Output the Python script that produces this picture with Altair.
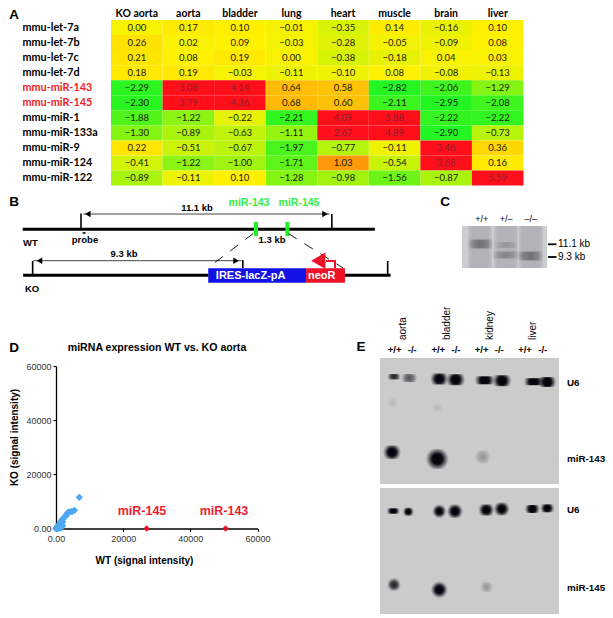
import altair as alt
import pandas as pd

# ---------- Panel A ----------
tissues = ["KO aorta", "aorta", "bladder", "lung", "heart", "muscle", "brain", "liver"]
mirnas = ["mmu-let-7a", "mmu-let-7b", "mmu-let-7c", "mmu-let-7d", "mmu-miR-143", "mmu-miR-145",
          "mmu-miR-1", "mmu-miR-133a", "mmu-miR-9", "mmu-miR-124", "mmu-miR-122"]
heat = [
    [0.00, 0.17, 0.10, -0.01, -0.35, 0.14, -0.16, 0.10],
    [0.26, 0.02, 0.09, -0.03, -0.28, -0.05, -0.09, 0.08],
    [0.21, 0.08, 0.19, 0.00, -0.38, -0.18, 0.04, 0.03],
    [0.18, 0.19, -0.03, -0.11, -0.10, 0.08, -0.08, -0.13],
    [-2.29, 3.08, 4.14, 0.64, 0.58, -2.82, -2.06, -1.29],
    [-2.30, 3.79, 4.36, 0.68, 0.60, -2.11, -2.95, -2.08],
    [-1.88, -1.22, -0.22, -2.21, 4.09, 5.88, -2.22, -2.22],
    [-1.30, -0.89, -0.63, -1.11, 2.67, 4.89, -2.90, -0.73],
    [0.22, -0.51, -0.67, -1.97, -0.77, -0.11, 3.46, 0.36],
    [-0.41, -1.22, -1.00, -1.71, 1.03, -0.54, 3.68, 0.16],
    [-0.89, -0.11, 0.10, -1.28, -0.98, -1.56, -0.87, 5.59],
]
# ---------- Panel D ----------
wt_blue = [6940, 5500, 4800, 4200, 3700, 3300, 3000, 2900, 2100, 1800, 2000, 1500, 1200, 1700, 900,
           600, 1300, 400, 200, 100, 800, 1500, 1900, 0, 300, 600, 1000]
ko_blue = [11500, 6700, 6300, 6200, 6000, 5500, 4900, 4500, 3700, 3200, 2500, 2600, 2000, 1500, 1400,
           1000, 800, 500, 300, 100, 300, 200, 900, 0, 0, 100, 200]
wt_red = [27000, 50500]
ko_red = [0, 0]

# ---------- Panel E: lanes (gel units), widths, heights and signal class ----------
g1_x = [14, 29.3, 59.3, 75.7, 104.7, 122, 153.7, 167.3, 12, 57.3, 102.7, 12.7, 57.3]
g1_y = [18.7, 20, 21, 21.7, 22.3, 22.7, 23.7, 24, 94.3, 101, 98.7, 44.7, 49.7]
g1_w = [13.5, 16, 18, 19, 20, 19, 20, 18, 18, 23, 16, 11, 11]
g1_h = [5.4, 8, 11, 11, 8, 11, 7, 10, 13.5, 20, 13, 11, 7]
g1_c = ["dark", "mid", "black", "black", "black", "black", "black", "black", "black", "black", "faint", "trace", "trace"]

g2_x = [13.3, 28.3, 59.3, 75, 106.3, 121.7, 152.3, 167.3, 14, 59.3, 106.7]
g2_y = [23, 23.7, 23.3, 23.3, 22, 21, 21, 20.3, 96.7, 101.7, 99]
g2_w = [13, 11, 14, 16, 16, 16, 15, 14, 14, 17, 13]
g2_h = [5.4, 8, 13.5, 13.5, 11, 12.6, 8, 8, 12.6, 17, 10]
g2_c = ["black", "black", "black", "black", "black", "black", "black", "black", "dark", "black", "faint"]

c_x = [18.5, 44, 44, 68]
c_y = [18, 19, 29, 30]
c_w = [26, 24, 28, 27]
c_h = [9, 6, 7, 9]
c_c = ["gel_dark", "gel_faint", "gel_mid", "gel_dark"]
c_lanes = [(6, 30), (32, 56), (57, 81)]

W, H = 597, 606


def S(lo, hi, a, b):
    """Linear scale: domain lo..hi onto figure pixels a..b."""
    return alt.Scale(domain=[lo, hi], range=[a - 8, b - 8], nice=False, zero=False)


FX = S(0, 613, 0, 613)
FY = S(0, 618, 0, 618)
KB = S(-3, 14, 13.2, 397.4)   # map positions of panel B in kb


def lines(rows, width, color, xscale=FX, yscale=FY, dash=None, cap="butt"):
    df = pd.DataFrame(rows, columns=["x", "y", "x2", "y2"])
    kw = dict(strokeWidth=width, color=color, strokeCap=cap)
    if dash:
        kw["strokeDash"] = dash
    return alt.Chart(df).mark_rule(**kw).encode(
        x=alt.X("x:Q", scale=xscale, axis=None), x2="x2:Q",
        y=alt.Y("y:Q", scale=yscale, axis=None), y2="y2:Q")


def boxes(rows, fill, xscale=FX, yscale=FY):
    df = pd.DataFrame(rows, columns=["x", "y", "x2", "y2"])
    return alt.Chart(df).mark_rect(fill=fill, stroke=None).encode(
        x=alt.X("x:Q", scale=xscale, axis=None), x2="x2:Q",
        y=alt.Y("y:Q", scale=yscale, axis=None), y2="y2:Q")


def texts(rows, size, bold=False, color="#000", font="Liberation Sans", angle=0, align="center"):
    df = pd.DataFrame(rows, columns=["t", "x", "y"])
    return alt.Chart(df).mark_text(fontSize=size, fontWeight="bold" if bold else "normal", color=color,
                                   font=font, angle=angle, align=align, baseline="middle").encode(
        x=alt.X("x:Q", scale=FX, axis=None), y=alt.Y("y:Q", scale=FY, axis=None), text="t:N")


def tris(rows, shape, size, color, xscale=KB):
    df = pd.DataFrame(rows, columns=["x", "y"])
    return alt.Chart(df).mark_point(shape=shape, size=size, filled=True, color=color, opacity=1,
                                    strokeWidth=0).encode(
        x=alt.X("x:Q", scale=xscale, axis=None), y=alt.Y("y:Q", scale=FY, axis=None))


STOPS = {
    "black": [(0, 1, 0), (0.45, 0.95, 0), (0.75, 0.4, 0), (1, 0, 0)],
    "dark": [(0, 0.85, 0), (0.45, 0.68, 0), (0.75, 0.28, 0), (1, 0, 0)],
    "mid": [(0, 0.6, 0), (0.5, 0.42, 0), (1, 0, 0)],
    "faint": [(0, 0.28, 0), (0.6, 0.15, 0), (1, 0, 0)],
    "trace": [(0, 0.1, 0), (1, 0, 0)],
    "gel_dark": [(0, 0.5, 40), (0.55, 0.34, 40), (1, 0, 40)],
    "gel_mid": [(0, 0.34, 40), (0.55, 0.22, 40), (1, 0, 40)],
    "gel_faint": [(0, 0.22, 40), (0.55, 0.13, 40), (1, 0, 40)],
}


def grad(name):
    return {"gradient": "radial",
            "stops": [{"offset": o, "color": f"rgba({g},{g},{g + 8},{a})"} for o, a, g in STOPS[name]]}


def bands(xs, ys, ws, hs, cs, xscale, yscale):
    out = []
    df = pd.DataFrame({"c": cs, "x": xs, "y": ys, "w": ws, "h": hs})
    df["x0"] = df.x - df.w / 2
    df["x1"] = df.x + df.w / 2
    df["y0"] = df.y - df.h / 2
    df["y1"] = df.y + df.h / 2
    for cls, sub in df.groupby("c", sort=False):
        out.append(alt.Chart(sub).mark_rect(fill=grad(cls), stroke=None).encode(
            x=alt.X("x0:Q", scale=xscale, axis=None), x2="x1:Q",
            y=alt.Y("y0:Q", scale=yscale, axis=None), y2="y1:Q"))
    return out


layers = []

# ---- A: heatmap
heat_df = pd.DataFrame([{"tissue": t, "mirna": m, "v": heat[i][j]}
                        for i, m in enumerate(mirnas) for j, t in enumerate(tissues)])
hx = alt.Scale(type="band", domain=tissues, range=[111 - 8, 523.5 - 8], paddingInner=0, paddingOuter=0)
hy = alt.Scale(type="band", domain=mirnas, range=[20 - 8, 185.6 - 8], paddingInner=0, paddingOuter=0)
layers.append(alt.Chart(heat_df).mark_rect(stroke=None).encode(
    x=alt.X("tissue:N", scale=hx, title=None, axis=alt.Axis(
        orient="top", offset=-12, domain=False, ticks=False, labelAngle=0, labelPadding=2, grid=False,
        labelFont="Lato", labelFontWeight="bold", labelFontSize=10.5, labelColor="#000")),
    y=alt.Y("mirna:N", scale=hy, title=None, axis=alt.Axis(
        orient="left", offset=-103, domain=False, ticks=False, labelPadding=89, grid=False, labelAlign="left",
        labelFont="Lato", labelFontWeight="bold", labelFontSize=10.8, labelOverlap=False,
        labelColor={"condition": {"test": "datum.value == 'mmu-miR-143' || datum.value == 'mmu-miR-145'",
                                  "value": "#ee1c25"}, "value": "#000"})),
    color=alt.Color("v:Q", legend=None, scale=alt.Scale(
        domain=[-2.4, 0.08, 2.5], range=["#22f522", "#fff200", "#ff0f1a"], clamp=True, interpolate="rgb"))))
layers.append(alt.Chart(heat_df).mark_text(font="Lato", fontSize=9.5, baseline="middle").encode(
    x=alt.X("tissue:N", scale=hx, axis=None), y=alt.Y("mirna:N", scale=hy, axis=None),
    text=alt.Text("v:Q", format=".2f"),
    color=alt.condition("datum.v >= 2.6", alt.value("#8a2030"), alt.value("#1a1a10"))))

# ---- B: locus maps
layers += [
    boxes([(5.63, 268.3, 9.96, 282.7)], "#1212e6", KB),
    boxes([(9.96, 268.3, 11.68, 282.7)], "#ee1128", KB),
    lines([(-2.58, 229.3, 13.0, 229.3)], 3, "#000", KB),
    lines([(-2.56, 275.3, 5.63, 275.3), (11.68, 275.3, 13.7, 275.3)], 3, "#000", KB),
    lines([(0, 213.5, 0, 229), (11.1, 214, 11.1, 229), (-2.14, 261, -2.14, 275), (7.16, 260, 7.16, 268),
           (13.57, 261, 13.57, 275)], 1.6, "#000", KB),
    lines([(0.1, 214, 11.0, 214), (-2.1, 260.7, 7.1, 260.7)], 1, "#444", KB),
    tris([(0.3, 214), (-1.84, 260.7)], "triangle-left", 42, "#000"),
    tris([(10.8, 214), (6.86, 260.7)], "triangle-right", 42, "#000"),
    lines([(7.74, 222, 7.74, 236), (9.13, 222, 9.13, 236)], 4, "#22ee22", KB),
    lines([(7.62, 233.5, 5.78, 265), (9.17, 233.5, 11.6, 268)], 0.9, "#000", KB, dash=[10, 9]),
    lines([(0.07, 233, 0.2, 233)], 1.6, "#000", KB),
    lines([(10.84, 261, 11.24, 261), (11.24, 260, 11.24, 268)], 2, "#ee1128", KB),
    tris([(10.5, 260.7)], "triangle-left", 270, "#ee1128"),
    texts([("11.1 kb", 197, 208), ("9.3 kb", 124, 254), ("1.3 kb", 272, 240), ("probe", 85, 240),
           ("WT", 30.5, 243), ("KO", 32, 289)], 9.5, True),
    texts([("miR-143", 249, 203), ("miR-145", 299, 203)], 10.5, True, "#33ee44"),
    texts([("IRES-lacZ-pA", 250.7, 276), ("neoR", 321.7, 276)], 11, True, "#fff"),
]

# ---- C: Southern blot
cxs = S(0, 85, 462, 547)
cys = S(0, 42, 226, 268)
layers.append(boxes([(0, 0, 85, 42)], "#cdcdcf", cxs, cys))
lane_grad = {"gradient": "linear", "x1": 0, "x2": 1, "y1": 0, "y2": 0, "stops": [
    {"offset": 0, "color": "#c2c2c6"}, {"offset": 0.15, "color": "#b2b2b8"},
    {"offset": 0.85, "color": "#b2b2b8"}, {"offset": 1, "color": "#c2c2c6"}]}
layers.append(boxes([(a, 0, b, 42) for a, b in c_lanes], lane_grad, cxs, cys))
layers += bands(c_x, c_y, c_w, c_h, c_c, cxs, cys)
layers += [
    lines([(548, 244.3, 556.5, 244.3), (548, 257, 556.5, 257)], 1.8, "#000"),
    texts([("11.1 kb", 558, 243.7), ("9.3 kb", 558, 257)], 10, align="left"),
    texts([("+/+", 481.7, 219), ("+/–", 506, 219), ("–/–", 530.7, 219)], 9),
]

# ---- D: scatter
dx = S(0, 60000, 56, 257.5)
dy = S(0, 60000, 528.5, 366)
blue_df = pd.DataFrame({"wt": wt_blue, "ko": ko_blue})
red_df = pd.DataFrame({"wt": wt_red, "ko": ko_red})
zero_fmt = "datum.value == 0 ? '0.00' : format(datum.value, 'd')"
axis_common = dict(domainColor="#000", domainWidth=1.3, tickColor="#000", tickWidth=1.1, tickSize=3, grid=False,
                   labelFont="Liberation Sans", labelFontSize=9, labelColor="#333", labelOverlap=False,
                   labelBound=False, labelFlush=False, titleFont="Liberation Sans", titleFontSize=10,
                   titleFontWeight="bold", titleColor="#000", values=[0, 20000, 40000, 60000], labelExpr=zero_fmt)
layers.append(alt.Chart(blue_df).mark_point(shape="diamond", filled=True, color="#4fa8f0", size=55, opacity=1,
                                            strokeWidth=0).encode(
    x=alt.X("wt:Q", scale=dx, title="WT (signal intensity)",
            axis=alt.Axis(orient="bottom", offset=-85.5, labelPadding=3, titleX=136, titleY=27, **axis_common)),
    y=alt.Y("ko:Q", scale=dy, title="KO (signal intensity)",
            axis=alt.Axis(orient="left", offset=-48, labelPadding=2, titleX=-37, titleY=429, **axis_common))))
layers.append(alt.Chart(red_df).mark_point(shape="diamond", filled=True, color="#e8102a", size=40, opacity=1,
                                           strokeWidth=0).encode(
    x=alt.X("wt:Q", scale=dx, axis=None), y=alt.Y("ko:Q", scale=dy, axis=None)))
layers += [
    texts([("miRNA expression WT vs. KO aorta", 157, 348)], 10.6, True),
    texts([("miR-145", 142, 511), ("miR-143", 224, 511)], 12.5, True, "#ee1c30"),
]

# ---- E: Northern blots
ex = S(0, 179, 380, 559)
ey1 = S(0, 126, 358, 484)
ey2 = S(0, 126, 488, 614)
layers.append(boxes([(0, 0, 179, 126)], "#cbcbcb", ex, ey1))
layers.append(boxes([(0, 0, 179, 126)], "#cbcbcb", ex, ey2))
layers += bands(g1_x, g1_y, g1_w, g1_h, g1_c, ex, ey1)
layers += bands(g2_x, g2_y, g2_w, g2_h, g2_c, ex, ey2)
layers += [
    texts([("aorta", 402.7, 340), ("bladder", 446.7, 340), ("kidney", 490, 340), ("liver", 533, 340)],
          10, angle=270, align="left"),
    texts([("+/+", 394.7, 350), ("-/-", 412.3, 350), ("+/+", 438.3, 350), ("-/-", 456, 350),
           ("+/+", 481.7, 350), ("-/-", 499.3, 350), ("+/+", 525, 350), ("-/-", 542.7, 350)], 9.5, True),
    texts([("U6", 567, 383), ("miR-143", 567, 459.3), ("U6", 567, 510), ("miR-145", 567, 588.3)],
          9.8, True, align="left"),
]

# ---- panel letters
layers.append(texts([("A", 14, 14.5), ("B", 14, 202), ("C", 445, 202), ("D", 14, 348), ("E", 361, 347)], 13.5, True))

chart = (
    alt.layer(*layers)
    .resolve_scale(x="independent", y="independent", color="independent")
    .resolve_axis(x="independent", y="independent")
    .properties(width=W, height=H, padding=0, background="#fff",
                autosize=alt.AutoSizeParams(type="none", contains="padding"))
    .configure_view(stroke=None)
)
chart.save("out.html", embed_options={"renderer": "svg", "actions": False})
